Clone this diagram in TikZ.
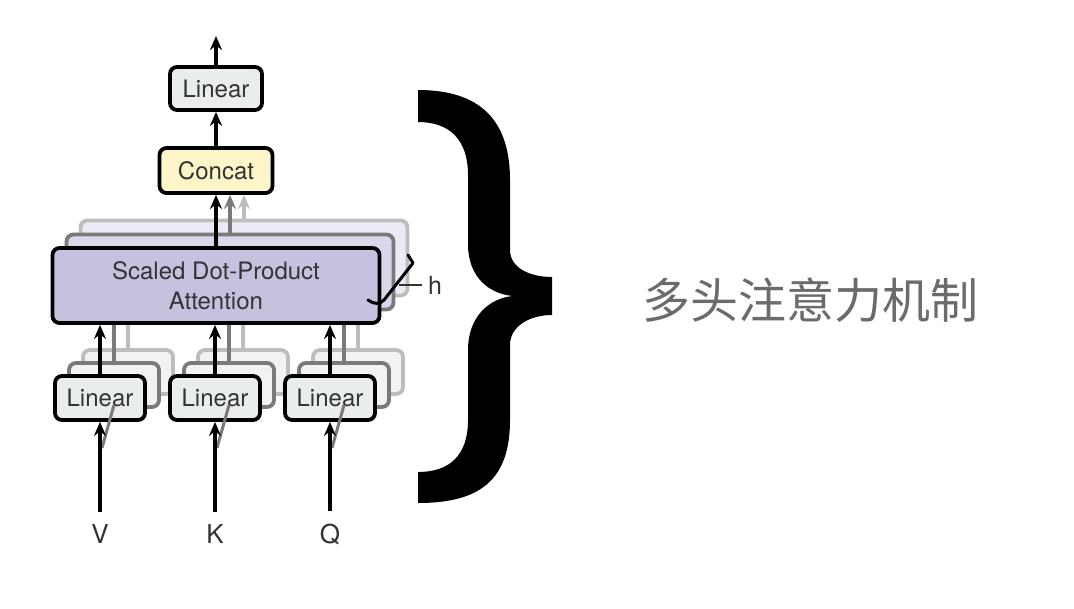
\documentclass[tikz,border=0pt]{standalone}
\usepackage{fontspec}
\setmainfont{TeX Gyre Heros}
\newfontfamily\cjk{Noto Sans CJK SC}
\usetikzlibrary{arrows.meta}
\definecolor{linfill}{HTML}{E9EDEB}
\definecolor{catfill}{HTML}{FBF5C8}
\definecolor{attfill}{HTML}{C6C1DF}
\definecolor{attfillb}{HTML}{DAD7EB}
\definecolor{attfillc}{HTML}{ECEBF5}
\definecolor{linfillb}{HTML}{F1F3F2}
\definecolor{txt}{HTML}{333333}
\definecolor{midgray}{HTML}{7A7A7A}
\definecolor{lightgray}{HTML}{BDBDBD}
\definecolor{cjkgray}{HTML}{6B6B6B}
\tikzset{
  box/.style={draw=black, line width=3.8pt, rounded corners=7pt, inner sep=0pt, text=txt,
    font=\fontsize{24}{30}\selectfont, align=center},
  linbox/.style={box, fill=linfill, minimum width=90pt, minimum height=44pt},
  attbox/.style={box, fill=attfill, minimum width=327pt, minimum height=75pt},
  backB/.style={draw=midgray},
  backC/.style={draw=lightgray},
  arr/.style={line width=3.5pt, -{Stealth[length=14pt,width=12pt]}},
  lbl/.style={inner sep=0pt, text=txt, font=\fontsize{26}{30}\selectfont},
}
\begin{document}
\begin{tikzpicture}[x=1pt,y=-1pt]
\useasboundingbox (0,0) rectangle (1074,608);

% ---- back copies (third layer) ----
\node[attbox, backC, fill=attfillc] (attC) at (244,258) {};
\node[linbox, backC, fill=linfillb] (l1C) at (128,372) {};
\node[linbox, backC, fill=linfillb] (l2C) at (243,372) {};
\node[linbox, backC, fill=linfillb] (l3C) at (358,372) {};
% ---- back copies (second layer) ----
\node[attbox, backB, fill=attfillb] (attB) at (230,272) {};
\node[linbox, backB, fill=linfillb] (l1B) at (114,385) {};
\node[linbox, backB, fill=linfillb] (l2B) at (229,385) {};
\node[linbox, backB, fill=linfillb] (l3B) at (344,385) {};

% ---- nodes ----
\node[linbox, minimum width=92pt, minimum height=43pt] (top) at (216,88.5) {Linear};
\node[box, fill=catfill, minimum width=113pt, minimum height=45pt] (cat) at (216,170.5) {Concat};
\coordinate (out) at (216,36);

% gray connectors from back layers
\draw[line width=3.5pt, lightgray] (l1C.north) -- (l1C.north |- attC.south);
\draw[line width=3.5pt, lightgray] (l2C.north) -- (l2C.north |- attC.south);
\draw[line width=3.5pt, lightgray] (l3C.north) -- (l3C.north |- attC.south);
\draw[line width=3.5pt, midgray] (l1B.north) -- (l1B.north |- attB.south);
\draw[line width=3.5pt, midgray] (l2B.north) -- (l2B.north |- attB.south);
\draw[line width=3.5pt, midgray] (l3B.north) -- (l3B.north |- attB.south);
\draw[arr, lightgray] ([xshift=28pt]cat.south |- attC.north) -- ([xshift=28pt]cat.south);
\draw[arr, midgray] ([xshift=14pt]cat.south |- attB.north) -- ([xshift=14pt]cat.south);

\node[attbox] (att) at (216,285.5) {Scaled Dot-Product\\Attention};
\node[linbox] (l1) at (100,398) {Linear};
\node[linbox] (l2) at (215,398) {Linear};
\node[linbox] (l3) at (330,398) {Linear};

\node[lbl] (v) at (100,534) {V};
\node[lbl] (k) at (215,534) {K};
\node[lbl] (q) at (330,534) {Q};

% input diagonals (back layers, mostly hidden)
\foreach \x in {100,215,330}{
  \draw[line width=3pt, midgray] (\x+2,448) -- (\x+14,405);
}

% ---- connectors ----
\draw[arr] (top.north) -- (out);
\draw[arr] (cat.north) -- (top.south);
\draw[arr] (cat.south |- att.north) -- (cat.south);
\draw[arr] (l1.north) -- (l1.north |- att.south);
\draw[arr] (l2.north) -- (l2.north |- att.south);
\draw[arr] (l3.north) -- (l3.north |- att.south);
\draw[arr] ([yshift=12pt]v.north) -- (l1.south);
\draw[arr] ([yshift=12pt]k.north) -- (l2.south);
\draw[arr] ([yshift=12pt]q.north) -- (l3.south);

% ---- h bracket ----
\draw[line width=3pt, line cap=round, line join=round] (408,255) -- (413,263) -- (384,300)
  .. controls (380,305) and (373,304) .. (368,300);
\node[inner sep=0pt, text=txt, font=\fontsize{25}{28}\selectfont, anchor=west] (h) at (428,285) {h};
\draw[line width=2.2pt, txt] (399,285) -- ([xshift=-6pt]h.west);

% ---- big brace ----
\fill[black] (418,90) .. controls (480,90) and (510,120) .. (510,180)
  -- (510,250) .. controls (510,268) and (530,277) .. (552,277)
  -- (552,315) .. controls (530,315) and (510,326) .. (510,345)
  -- (510,420) .. controls (510,480) and (480,503) .. (418,503)
  -- (418,472) .. controls (450,472) and (468,455) .. (468,420)
  -- (468,350) .. controls (468,316) and (490,298) .. (513,296)
  .. controls (490,294) and (468,278) .. (468,244)
  -- (468,175) .. controls (468,140) and (450,122) .. (418,122) -- cycle;

% ---- Chinese label ----
\node[inner sep=0pt, anchor=west, text=cjkgray, font=\cjk\fontsize{48}{50}\selectfont] (zh) at (642,300) {多头注意力机制};
\end{tikzpicture}
\end{document}
